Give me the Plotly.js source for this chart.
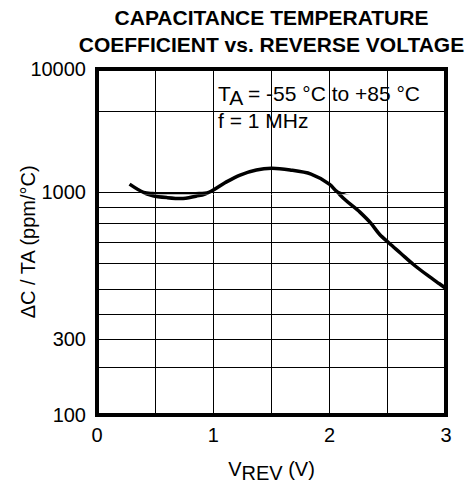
<!DOCTYPE html>
<html><head><meta charset="utf-8">
<script src="https://cdn.plot.ly/plotly-3.0.1.min.js"></script>
<style>html,body{margin:0;padding:0;background:#fff}#chart{width:473px;height:484px}</style>
</head><body><div id="chart"></div>
<script>
// Curve
const voltage   = [0.28,0.40,0.48,0.60,0.74,0.85,0.96,1.10,1.23,1.37,1.50,1.66,1.84,2.00,2.07,2.26,2.35,2.43,2.51,2.61,2.72,2.84,2.94,3.00];
const tempCoeff = [1165,1000,976,963,957,972,1000,1196,1381,1517,1565,1517,1406,1161,1000,868,805,740,696,647,597,553,521,503];

// Ticks and grid values
const xTickVals = [0,1,2,3];
const xTickText = ['0','1','2','3'];
const xMinorVals = [0.5,1.5,2.5];
const band1Vals = [100];   const band1Text = ['100'];   const band1Minor = [200];
const band2Vals = [300];   const band2Text = ['300'];   const band2Minor = [400];
const band3Vals = [1000];  const band3Text = ['1000'];  const band3Minor = [500,600,700,800,900];
const band4Vals = [10000]; const band4Text = ['10000']; const band4Minor = [1000,4500];

const FONT = 'Liberation Sans, Arial, Helvetica, sans-serif';
const H = 346;                    // plot-area height (px)
const OV = 2;                     // px overlap so a band's edge grid line is drawn
const h300 = 76, h500 = 125.7, h1000 = 222.7;
const D3 = (h1000 - h500) / Math.log10(2);   // px per decade, band 500-1000
const D4 = (H - h1000);                      // px per decade, band 1000-10000
const vpp2 = 200 / (h500 - h300);            // value per px, band 300-500

function yAx(type, range, domain, vals, text, minor, extra) {
  return Object.assign({
    type: type, range: range, domain: domain, anchor: 'x',
    tickmode: 'array', tickvals: vals, ticktext: text,
    showgrid: true, gridcolor: '#000', gridwidth: 1,
    minor: {tickmode: 'array', tickvals: minor, showgrid: true,
            gridcolor: '#000', gridwidth: 1, ticks: ''},
    zeroline: false, showline: false, ticks: '',
    ticklabelstandoff: 10,
    tickfont: {family: FONT, size: 20, color: '#000'},
    fixedrange: true
  }, extra || {});
}

const traces = ['y','y2','y3','y4'].map(id => ({
  x: voltage, y: tempCoeff, yaxis: id, xaxis: 'x',
  type: 'scatter', mode: 'lines',
  line: {color: '#000', width: 3.5, shape: 'spline', smoothing: 0.9},
  showlegend: false, hoverinfo: 'skip'
}));

const layout = {
  width: 473, height: 484,
  margin: {l: 97, r: 27, t: 69, b: 69},
  paper_bgcolor: '#fff', plot_bgcolor: '#fff',
  font: {family: FONT, size: 20, color: '#000'},
  title: {
    text: 'CAPACITANCE TEMPERATURE<br>COEFFICIENT vs. REVERSE VOLTAGE',
    font: {family: FONT, size: 21, weight: 'bold', color: '#000'},
    xref: 'paper', x: 0.5, xanchor: 'center',
    yref: 'container', y: 1 - 25/484, yanchor: 'top'
  },
  xaxis: {
    range: [0, 3], anchor: 'y', domain: [0, 1],
    tickmode: 'array', tickvals: xTickVals, ticktext: xTickText,
    showgrid: true, gridcolor: '#000', gridwidth: 1,
    minor: {tickmode: 'array', tickvals: xMinorVals, showgrid: true,
            gridcolor: '#000', gridwidth: 1, ticks: ''},
    zeroline: false, showline: false, ticks: '',
    ticklabelstandoff: 6,
    tickfont: {family: FONT, size: 20, color: '#000'},
    title: {text: 'V<sub><span style="font-size:20px">REV</span></sub> (V)', standoff: 16,
            font: {family: FONT, size: 20, color: '#000'}},
    fixedrange: true
  },
  yaxis:  yAx('log', [2, Math.log10(300)], [0, h300/H], band1Vals, band1Text, band1Minor),
  yaxis2: yAx('linear', [300 - OV*vpp2, 500], [(h300-OV)/H, h500/H], band2Vals, band2Text, band2Minor),
  yaxis3: yAx('log', [Math.log10(500) - OV/D3, 3], [(h500-OV)/H, h1000/H], band3Vals, band3Text, band3Minor,
              {title: {text: 'ΔC / TA (ppm/°C)', standoff: 0,
                       font: {family: FONT, size: 20, color: '#000'}}}),
  yaxis4: yAx('log', [3 - OV/D4, 4], [(h1000-OV)/H, 1], band4Vals, band4Text, band4Minor),
  shapes: [
    {type: 'rect', xref: 'paper', yref: 'paper',
     x0: (198-97)/349, x1: (434-97)/349, y0: (415-141)/H, y1: (415-79)/H,
     fillcolor: '#fff', line: {width: 0}, layer: 'between'},
    {type: 'rect', xref: 'paper', yref: 'paper', x0: 0, x1: 1, y0: 0, y1: 1,
     line: {color: '#000', width: 4}, fillcolor: 'rgba(0,0,0,0)', layer: 'above'}
  ],
  annotations: [
    {text: 'T<sub><span style="font-size:21px">A</span></sub> = -55 °C to +85 °C<br>f = 1 MHz',
     xref: 'paper', yref: 'paper', x: (216-97)/349, y: (415-80)/H,
     xanchor: 'left', yanchor: 'top', align: 'left', showarrow: false,
     font: {family: FONT, size: 21, color: '#000'}}
  ]
};

Plotly.newPlot('chart', traces, layout, {staticPlot: true, displayModeBar: false});
</script>
</body></html>
